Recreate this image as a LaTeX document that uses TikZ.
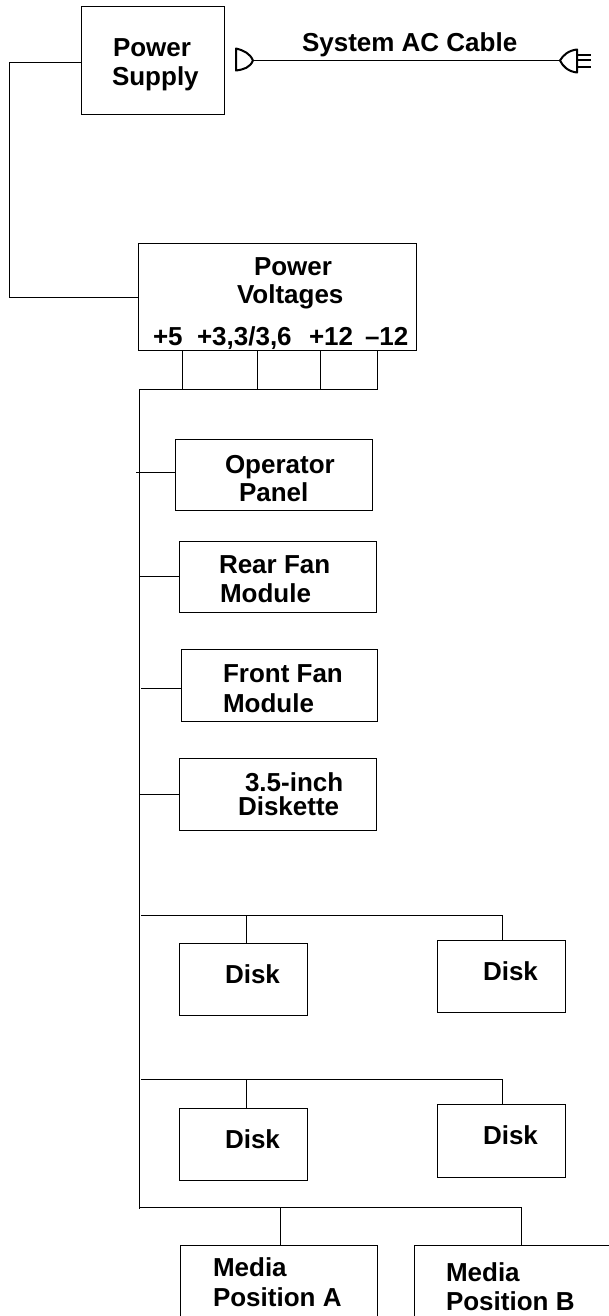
\documentclass[tikz,border=0pt]{standalone}
\usepackage{fontspec}
\setmainfont{Liberation Sans}
\tikzset{
  boxn/.style={draw=black,line width=1pt,inner sep=0pt,outer sep=0pt},
  openn/.style={inner sep=0pt,outer sep=0pt},
  lbl/.style={anchor=base west,inner sep=0pt,outer sep=0pt,font=\fontsize{26}{26}\selectfont\bfseries},
  wire/.style={draw=black,line width=1pt},
  plug/.style={draw=black,line width=2pt,line cap=round,line join=round},
  prong/.style={draw=black,line width=2pt}
}
\newcommand{\bx}[6][boxn]{%
  \node[#1,minimum width=#4pt-#2pt,minimum height=#5pt-#3pt] (#6) at ({(#2+#4)/2},{(#3+#5)/2}) {};}
\begin{document}
\begin{tikzpicture}[x=1pt,y=-1pt]
\useasboundingbox (0,0) rectangle (609,1316);
% boxes
\bx{81}{7}{224.5}{115}{psu}
\bx{138}{243}{416}{350}{volt}
\bx{175}{439}{372}{510}{oper}
\bx{179}{541}{376}{612}{rear}
\bx{181}{649}{377}{721}{front}
\bx{179}{758}{376}{830}{disk}
\bx{179}{943}{307}{1015}{da}
\bx{437}{940}{565}{1012}{db}
\bx{179}{1108}{307}{1180}{dc}
\bx{437}{1104}{565}{1177}{dd}
\bx[openn]{180}{1245}{377}{1316}{ma}
\bx[openn]{414}{1245}{609}{1316}{mb}
\draw[wire] (ma.south west) -- (ma.north west) -- (ma.north east) -- (ma.south east);
\draw[wire] (mb.south west) -- (mb.north west) -- (mb.north east);
% labels
\node[lbl] (t1) at (113,57) {Power};
\node[lbl] (t2) at (112,86) {Supply};
\node[lbl] (t3) at (302,52) {System AC Cable};
\node[lbl] (t4) at (254,275) {Power};
\node[lbl] (t5) at (237,303) {Voltages};
\node[lbl] (t6) at (153,345) {+5};
\node[lbl] (t7) at (197,345) {+3,3/3,6};
\node[lbl] (t8) at (309,345) {+12};
\node[lbl] (t9) at (365,345) {–12};
\node[lbl] (t10) at (225,473) {Operator};
\node[lbl] (t11) at (239,501) {Panel};
\node[lbl] (t12) at (219,573) {Rear Fan};
\node[lbl] (t13) at (220,602) {Module};
\node[lbl] (t14) at (223,682) {Front Fan};
\node[lbl] (t15) at (223,712) {Module};
\node[lbl] (t16) at (245,791) {3.5-inch};
\node[lbl] (t17) at (238,815) {Diskette};
\node[lbl] (t18) at (225,983) {Disk};
\node[lbl] (t19) at (483,980) {Disk};
\node[lbl] (t20) at (225,1148) {Disk};
\node[lbl] (t21) at (483,1144) {Disk};
\node[lbl] (t22) at (213,1276) {Media};
\node[lbl] (t23) at (213,1306) {Position A};
\node[lbl] (t24) at (446,1281) {Media};
\node[lbl] (t25) at (446,1310) {Position B};
% coordinates
\coordinate (psuL) at (9,63);
\coordinate (voltL) at (9,297);
\coordinate (busTL) at (139.5,389);
\coordinate (busTR) at (377,389);
\coordinate (busEnd) at (139.5,1209);
\coordinate (v1) at (182,389);
\coordinate (v2) at (257.5,389);
\coordinate (v3) at (320.5,389);
\coordinate (s1) at (136,472);
\coordinate (s2) at (139.5,576);
\coordinate (s3) at (141,688);
\coordinate (s4) at (139.5,794);
\coordinate (b1L) at (141,915);
\coordinate (b1R) at (502,915);
\coordinate (b1M) at (246,915);
\coordinate (b2L) at (141,1079);
\coordinate (b2R) at (502,1079);
\coordinate (b2M) at (246,1079);
\coordinate (b3L) at (139.5,1207);
\coordinate (b3R) at (521,1207);
\coordinate (b3M) at (280,1207);
\coordinate (plugA) at (253,60.5);
\coordinate (plugB) at (560,60.5);
% connectors
\draw[wire] (psu.west |- psuL) -- (psuL) -- (voltL) -- (volt.west |- voltL);
\draw[wire] (busTL) -- (busTR) -- (busTR |- volt.south);
\draw[wire] (v1) -- (v1 |- volt.south);
\draw[wire] (v2) -- (v2 |- volt.south);
\draw[wire] (v3) -- (v3 |- volt.south);
\draw[wire] (busTL) -- (busEnd);
\draw[wire] (s1) -- (oper.west |- s1);
\draw[wire] (s2) -- (rear.west |- s2);
\draw[wire] (s3) -- (front.west |- s3);
\draw[wire] (s4) -- (disk.west |- s4);
\draw[wire] (b1L) -- (b1R) -- (b1R |- db.north);
\draw[wire] (b1M) -- (b1M |- da.north);
\draw[wire] (b2L) -- (b2R) -- (b2R |- dd.north);
\draw[wire] (b2M) -- (b2M |- dc.north);
\draw[wire] (b3L) -- (b3R) -- (b3R |- mb.north);
\draw[wire] (b3M) -- (b3M |- ma.north);
% cable and plugs
\draw[wire] (plugA) -- (plugB);
\draw[plug] (plugA) .. controls ([xshift=-3,yshift=-7]plugA) and ([xshift=-9,yshift=-9]plugA) .. ([xshift=-17,yshift=-10]plugA) -- ([xshift=-17,yshift=12]plugA) .. controls ([xshift=-9,yshift=10]plugA) and ([xshift=-3,yshift=7]plugA) .. (plugA);
\draw[plug] ([xshift=17,yshift=-12]plugB) .. controls ([xshift=8,yshift=-11]plugB) and ([xshift=3,yshift=-6]plugB) .. (plugB) .. controls ([xshift=3,yshift=5]plugB) and ([xshift=8,yshift=10]plugB) .. ([xshift=17,yshift=11]plugB) -- cycle;
\draw[prong] ([xshift=17,yshift=-7]plugB) -- ([xshift=31,yshift=-7]plugB);
\draw[prong] ([xshift=17]plugB) -- ([xshift=31]plugB);
\draw[prong] ([xshift=17,yshift=5.5]plugB) -- ([xshift=31,yshift=5.5]plugB);
\end{tikzpicture}
\end{document}
